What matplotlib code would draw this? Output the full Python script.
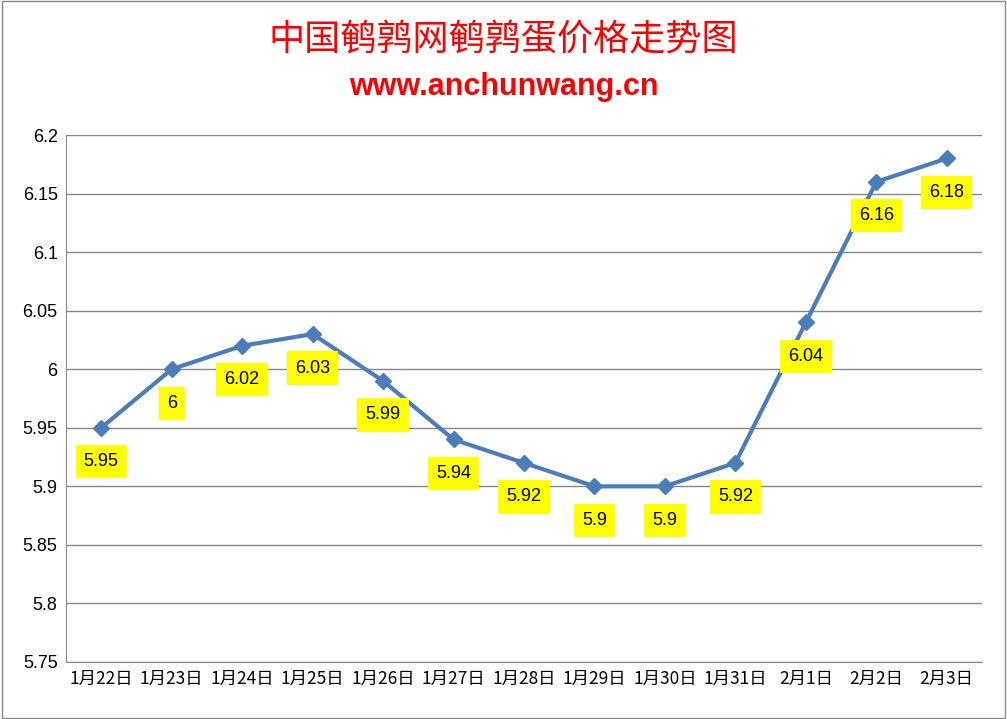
import matplotlib
matplotlib.use("Agg")
import matplotlib.pyplot as plt
from matplotlib.patches import Rectangle

dates = ["1月22日","1月23日","1月24日","1月25日","1月26日","1月27日","1月28日","1月29日","1月30日","1月31日","2月1日","2月2日","2月3日"]
prices = [5.95,6.0,6.02,6.03,5.99,5.94,5.92,5.9,5.9,5.92,6.04,6.16,6.18]
labels = ["5.95","6","6.02","6.03","5.99","5.94","5.92","5.9","5.9","5.92","6.04","6.16","6.18"]
yticks = [5.75,5.8,5.85,5.9,5.95,6.0,6.05,6.1,6.15,6.2]
ytl = ["5.75","5.8","5.85","5.9","5.95","6","6.05","6.1","6.15","6.2"]

plt.rcParams['font.family'] = ['Noto Sans CJK SC', 'DejaVu Sans']
W, H = 1007, 719
fig = plt.figure(figsize=(W/100, H/100), dpi=100)
fig.patches.append(Rectangle((0.002,0.002),0.996,0.996,transform=fig.transFigure,fill=False,ec='#888888',lw=1))
ax = fig.add_axes([66/W, 1-662/H, 916/W, 527/H])
x = list(range(len(dates)))
ax.plot(x, prices, color='#4a7ebb', lw=3, marker='D', ms=8, zorder=3)
for i,(p,l) in enumerate(zip(prices,labels)):
    ax.annotate(l, (i,p), xytext=(0,-24.5), textcoords='offset points', ha='center', va='center',
                fontsize=13, family=['Liberation Sans','DejaVu Sans'],
                bbox=dict(boxstyle='square,pad=0.45', fc='#ffff00', ec='none'), zorder=4)
ax.set_xlim(-0.5, 12.5)
ax.set_ylim(5.75, 6.2)
ax.set_yticks(yticks)
ax.set_yticklabels(ytl, fontsize=13, family=['Liberation Sans','DejaVu Sans'])
ax.set_xticks(x)
ax.set_xticklabels(dates, fontsize=12.5)
ax.grid(axis='y', color='#888888', lw=1)
ax.set_axisbelow(True)
for s in ['top','right']:
    ax.spines[s].set_visible(False)
ax.spines['left'].set_color('#888888'); ax.spines['bottom'].set_color('#888888')
ax.tick_params(axis='both', length=0, pad=6)
fig.text(0.5, 1-40/H, "中国鹌鹑网鹌鹑蛋价格走势图", ha='center', va='center', color='red', fontsize=26)
fig.text(0.5, 1-87/H, "www.anchunwang.cn", ha='center', va='center', color='red', fontsize=22,
         fontweight='bold', family=['Liberation Sans','DejaVu Sans'])
fig.savefig("out.png", dpi=100)
